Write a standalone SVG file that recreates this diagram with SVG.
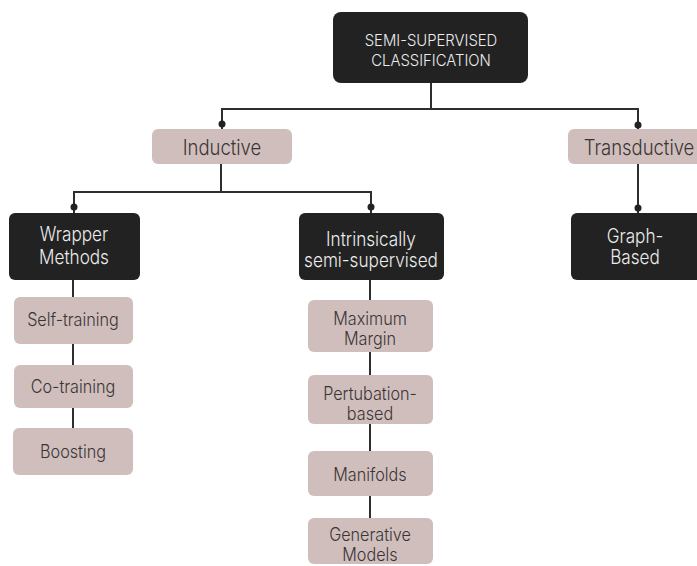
<svg xmlns="http://www.w3.org/2000/svg" width="697" height="566" viewBox="0 0 697 566">
<style>
.dark rect{fill:#222222}
.dark text{fill:#ececec}
.light rect{fill:#d0bebd}
.light text{fill:#3a3535}
text{font-family:Inter,"Liberation Sans",sans-serif;text-anchor:middle;font-weight:300}
.h{font-size:19.5px}
.p{font-size:18px}
.m{font-size:21px}
.r{font-size:16.5px}
.conn line{stroke:#2e2e2e;stroke-width:2}
.conn circle{fill:#222}
</style>
<rect width="697" height="566" fill="#ffffff"/>
<g class="conn">
<line x1="431" y1="83" x2="431" y2="109"/>
<line x1="221" y1="109" x2="639" y2="109"/>
<line x1="222" y1="108" x2="222" y2="129"/>
<line x1="638" y1="108" x2="638" y2="129"/>
<circle cx="222" cy="124" r="3.5"/>
<circle cx="638" cy="125" r="3.5"/>
<line x1="221" y1="164" x2="221" y2="192"/>
<line x1="73" y1="192" x2="372" y2="192"/>
<line x1="74" y1="191" x2="74" y2="213"/>
<line x1="371" y1="191" x2="371" y2="213"/>
<circle cx="74" cy="207" r="3.5"/>
<circle cx="371" cy="207" r="3.5"/>
<line x1="638" y1="164" x2="638" y2="213"/>
<circle cx="638" cy="208" r="3.5"/>
<line x1="73" y1="280" x2="73" y2="297"/>
<line x1="73" y1="344" x2="73" y2="365"/>
<line x1="73" y1="408" x2="73" y2="428"/>
<line x1="370" y1="280" x2="370" y2="300"/>
<line x1="370" y1="352" x2="370" y2="375"/>
<line x1="370" y1="424" x2="370" y2="451"/>
<line x1="370" y1="496" x2="370" y2="518"/>
</g>
<g id="root" class="dark"><rect x="333" y="12" width="195" height="71" rx="8"/><text class="r" transform="translate(431,45.5) scale(0.9,1)">SEMI-SUPERVISED</text><text class="r" transform="translate(431,65.5) scale(0.9,1)">CLASSIFICATION</text></g>
<g id="inductive" class="light"><rect x="152" y="129" width="140" height="35" rx="6"/><text class="m" transform="translate(222,155) scale(0.88,1)">Inductive</text></g>
<g id="transductive" class="light"><rect x="568" y="129" width="140" height="35" rx="6"/><text class="m" transform="translate(639,155) scale(0.88,1)">Transductive</text></g>
<g id="wrapper" class="dark"><rect x="9" y="213" width="131" height="67" rx="6"/><text class="h" transform="translate(74,241) scale(0.88,1)">Wrapper</text><text class="h" transform="translate(74,264) scale(0.88,1)">Methods</text></g>
<g id="intrinsic" class="dark"><rect x="299" y="213" width="145" height="67" rx="6"/><text class="h" transform="translate(371,246) scale(0.88,1)">Intrinsically</text><text class="h" transform="translate(371,267) scale(0.88,1)">semi-supervised</text></g>
<g id="graph" class="dark"><rect x="571" y="213" width="140" height="67" rx="6"/><text class="h" transform="translate(635,243) scale(0.88,1)">Graph-</text><text class="h" transform="translate(635,264) scale(0.88,1)">Based</text></g>
<g id="self" class="light"><rect x="14" y="297" width="119" height="47" rx="6"/><text class="p" transform="translate(73,326) scale(0.9,1)">Self-training</text></g>
<g id="co" class="light"><rect x="14" y="365" width="119" height="43" rx="6"/><text class="p" transform="translate(73,393) scale(0.9,1)">Co-training</text></g>
<g id="boost" class="light"><rect x="13" y="428" width="120" height="47" rx="6"/><text class="p" transform="translate(73,458) scale(0.9,1)">Boosting</text></g>
<g id="maxmargin" class="light"><rect x="308" y="300" width="125" height="52" rx="6"/><text class="p" transform="translate(370,325) scale(0.9,1)">Maximum</text><text class="p" transform="translate(370,345) scale(0.9,1)">Margin</text></g>
<g id="perturb" class="light"><rect x="308" y="375" width="125" height="49" rx="6"/><text class="p" transform="translate(370,400) scale(0.9,1)">Pertubation-</text><text class="p" transform="translate(370,420) scale(0.9,1)">based</text></g>
<g id="manifolds" class="light"><rect x="308" y="451" width="125" height="45" rx="6"/><text class="p" transform="translate(370,481) scale(0.9,1)">Manifolds</text></g>
<g id="generative" class="light"><rect x="308" y="518" width="125" height="46" rx="6"/><text class="p" transform="translate(370,541) scale(0.9,1)">Generative</text><text class="p" transform="translate(370,561) scale(0.9,1)">Models</text></g>
</svg>
